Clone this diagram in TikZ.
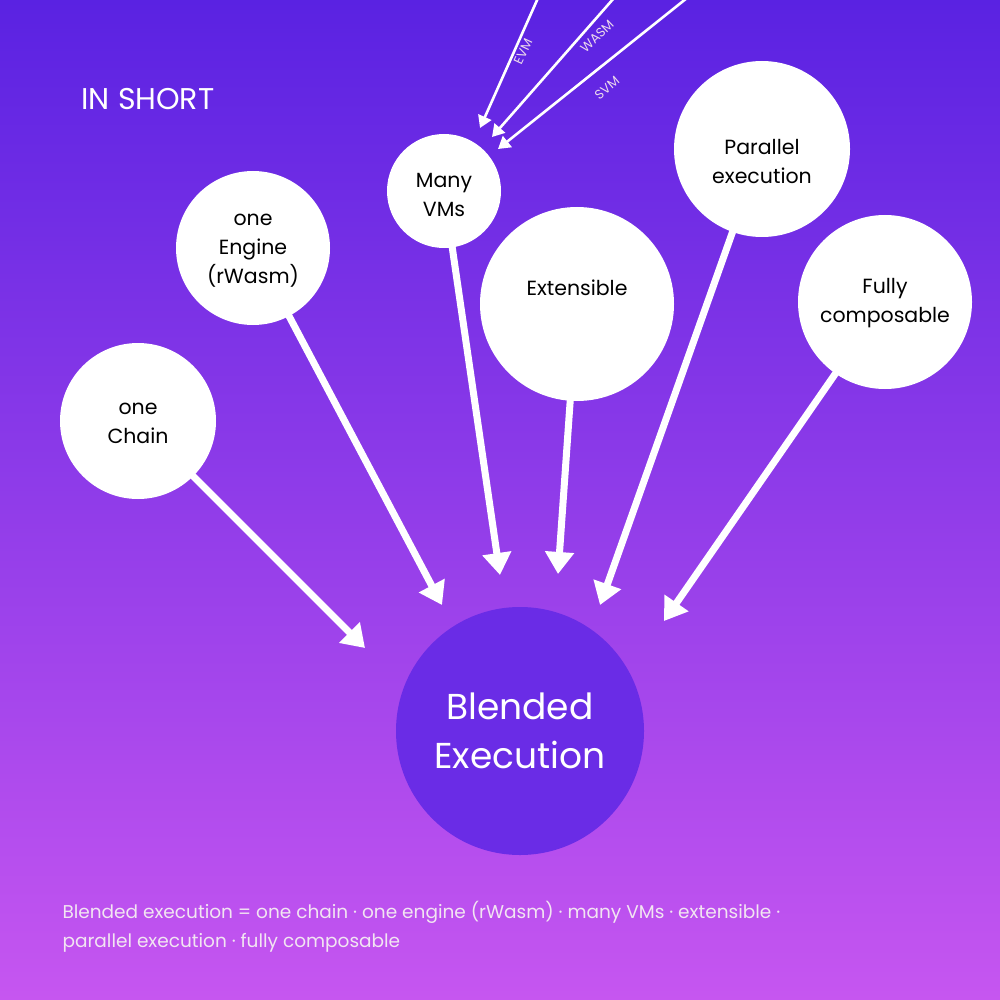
\documentclass[tikz,border=0pt]{standalone}
\usepackage{fontspec}
\setmainfont{Poppins}
\usetikzlibrary{arrows.meta}
\definecolor{topc}{HTML}{5A22E2}
\definecolor{botc}{HTML}{C656F0}
\definecolor{midc}{HTML}{6A2CE6}
\begin{document}
\begin{tikzpicture}[x=1pt,y=-1pt,
  bub/.style={circle,fill=white,inner sep=0pt},
  btxt/.style={text=black,align=center,inner sep=0pt,font=\fontsize{20.5}{29}\selectfont},
  big/.style={-{Triangle[length=22pt,width=28pt]},white,line width=7pt,shorten <=-2pt},
  thin/.style={-{Triangle[length=12pt,width=14pt]},white,line width=2.6pt},
  lab/.style={text=white!85!violet,font=\fontsize{13}{13}\selectfont}]
\shade[top color=topc,bottom color=botc] (0,0) rectangle (1000,1000);
\useasboundingbox (0,0) rectangle (1000,1000);
\node[anchor=west,text=white,font=\fontsize{30}{30}\selectfont] (title) at (78,99) {IN SHORT};
\node[bub,minimum size=156pt] (chain) at (138,421) {};
\node[bub,minimum size=154pt] (engine) at (253,248) {};
\node[bub,minimum size=114pt] (vms) at (444,191) {};
\node[bub,minimum size=194pt] (ext) at (577,304) {};
\node[bub,minimum size=176pt] (par) at (762,149) {};
\node[bub,minimum size=174pt] (full) at (885,302) {};
\node[btxt] (chaint) at ([yshift=-2pt]chain.center) {one\\Chain};
\node[btxt] (enginet) at ([yshift=-3pt]engine.center) {one\\Engine\\(rWasm)};
\node[btxt] (vmst) at ([yshift=-4pt]vms.center) {Many\\VMs};
\node[btxt] (extt) at ([yshift=16pt]ext.center) {Extensible};
\node[btxt] (part) at ([yshift=-13pt]par.center) {Parallel\\execution};
\node[btxt] (fullt) at ([yshift=-1pt]full.center) {Fully\\composable};
\node[circle,fill=midc,minimum size=248pt] (blend) at (520,731) {};
\node[text=white,align=center,font=\fontsize{36}{49}\selectfont] (blendt) at (blend.center) {Blended\\Execution};
\coordinate (t1) at (365,648);
\coordinate (t2) at (442,605);
\coordinate (t3) at (500,575);
\coordinate (t4) at (558,574);
\coordinate (t5) at (600,605);
\coordinate (t6) at (664,621);
\draw[big] (chain) -- (t1);
\draw[big] (engine) -- (t2);
\draw[big] (vms) -- (t3);
\draw[big] (ext) -- (t4);
\draw[big] (par) -- (t5);
\draw[big] (full) -- (t6);
\coordinate (s1) at (538,-2);
\coordinate (s2) at (614,-2);
\coordinate (s3) at (687,-2);
\coordinate (e1) at (480,128);
\coordinate (e2) at (492,137);
\coordinate (e3) at (498,149);
\draw[thin] (s1) -- (e1);
\draw[thin] (s2) -- (e2);
\draw[thin] (s3) -- (e3);
\node[lab,rotate=65] (evm) at (523,52) {EVM};
\node[lab,rotate=44] (wasm) at (597,36) {WASM};
\node[lab,rotate=40] (svm) at (607,88) {SVM};
\node[anchor=north west,align=left,text=white!90!violet,font=\fontsize{18.5}{29}\selectfont] (foot) at (59,898) {Blended execution = one chain · one engine (rWasm) · many VMs · extensible ·\\parallel execution · fully composable};
\end{tikzpicture}
\end{document}
